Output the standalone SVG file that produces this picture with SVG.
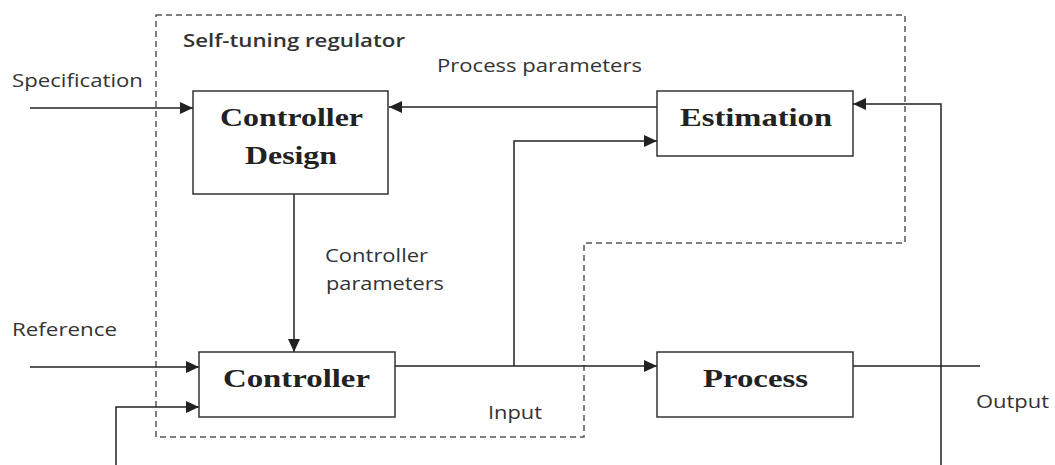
<svg xmlns="http://www.w3.org/2000/svg" width="1055" height="465" viewBox="0 0 1055 465">
  <style>
    .box { fill: #fff; stroke: #333; stroke-width: 1.5; }
    .title { font-family: "Liberation Serif", "Times New Roman", serif; font-weight: bold; font-size: 26px; fill: #222; }
    .lbl { font-family: "Open Sans", "Liberation Sans", sans-serif; font-size: 18px; fill: #333; }
    .lblb { font-family: "Open Sans", "Liberation Sans", sans-serif; font-size: 18px; font-weight: 600; fill: #333; }
    .wire { fill: none; stroke: #222; stroke-width: 1.5; }
    .arr { marker-end: url(#ah); }
    .dash { fill: none; stroke: #555; stroke-width: 1.5; stroke-dasharray: 6 4; }
  </style>
  <defs>
    <marker id="ah" viewBox="0 0 13 12" refX="13" refY="6" markerWidth="13" markerHeight="12" markerUnits="userSpaceOnUse" orient="auto">
      <path d="M0,0 L13,6 L0,12 z" fill="#222"/>
    </marker>
  </defs>
  <rect width="1055" height="465" fill="#fff"/>

  <g id="boundary">
    <path class="dash" d="M156,15 H905 V243 H584 V437 H156 Z"/>
    <text class="lblb" x="183" y="47" textLength="222" lengthAdjust="spacingAndGlyphs">Self-tuning regulator</text>
  </g>

  <g id="connectors">
    <path class="wire arr" d="M30,108 H193"/>
    <path class="wire arr" d="M657,107 H389"/>
    <path class="wire arr" d="M294,194 V352"/>
    <path class="wire arr" d="M30,367 H199"/>
    <path class="wire arr" d="M116,465 V407 H199"/>
    <path class="wire arr" d="M395,366 H657"/>
    <path class="wire arr" d="M514,366 V141 H657"/>
    <path class="wire" d="M853,366 H980"/>
    <path class="wire arr" d="M941,465 V104 H853"/>
  </g>

  <g id="labels">
    <text class="lbl" x="12" y="87" textLength="131" lengthAdjust="spacingAndGlyphs">Specification</text>
    <text class="lbl" x="437" y="72" textLength="205" lengthAdjust="spacingAndGlyphs">Process parameters</text>
    <text class="lbl" x="325" y="262" textLength="103" lengthAdjust="spacingAndGlyphs">Controller</text>
    <text class="lbl" x="326" y="290" textLength="118" lengthAdjust="spacingAndGlyphs">parameters</text>
    <text class="lbl" x="12" y="336" textLength="105" lengthAdjust="spacingAndGlyphs">Reference</text>
    <text class="lbl" x="488" y="419" textLength="54" lengthAdjust="spacingAndGlyphs">Input</text>
    <text class="lbl" x="976" y="408" textLength="73" lengthAdjust="spacingAndGlyphs">Output</text>
  </g>

  <g id="controller-design">
    <rect class="box" x="193" y="91" width="195" height="103"/>
    <text class="title" x="220" y="126" textLength="143" lengthAdjust="spacingAndGlyphs">Controller</text>
    <text class="title" x="245" y="164" textLength="92" lengthAdjust="spacingAndGlyphs">Design</text>
  </g>

  <g id="estimation">
    <rect class="box" x="657" y="91" width="196" height="65"/>
    <text class="title" x="680" y="126" textLength="152" lengthAdjust="spacingAndGlyphs">Estimation</text>
  </g>

  <g id="controller">
    <rect class="box" x="199" y="352" width="196" height="65"/>
    <text class="title" x="223" y="387" textLength="147" lengthAdjust="spacingAndGlyphs">Controller</text>
  </g>

  <g id="process">
    <rect class="box" x="657" y="352" width="196" height="65"/>
    <text class="title" x="703" y="387" textLength="105" lengthAdjust="spacingAndGlyphs">Process</text>
  </g>
</svg>
